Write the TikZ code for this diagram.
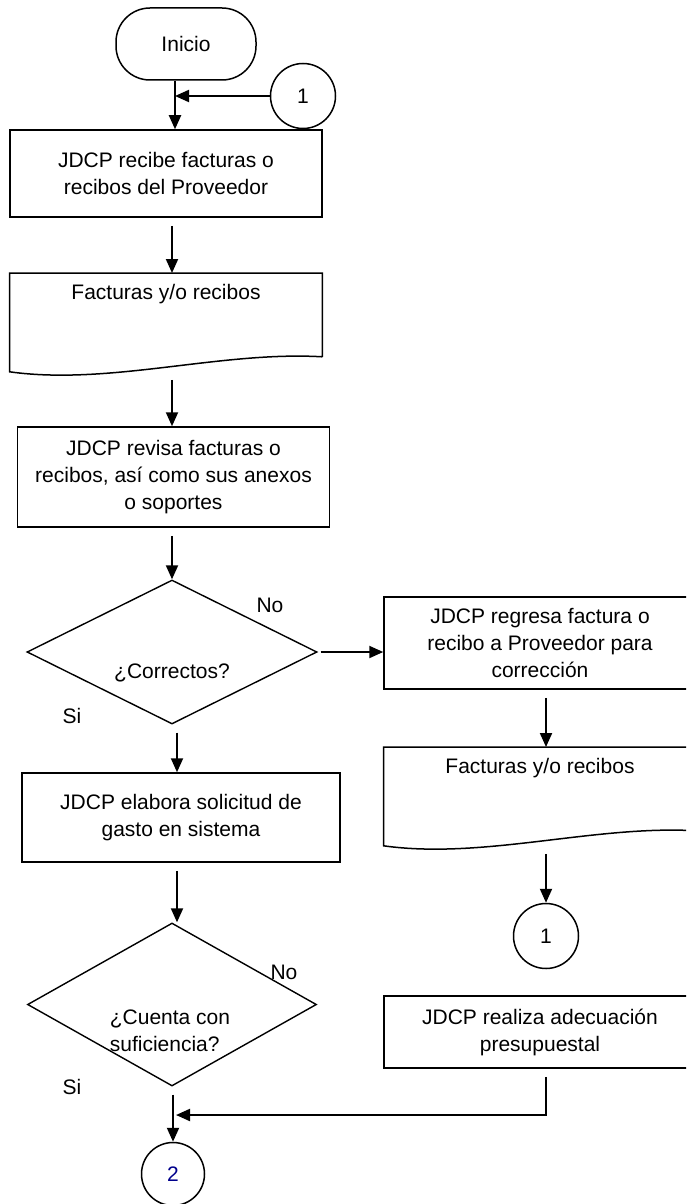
\documentclass[tikz,border=0pt]{standalone}
\usepackage{fontspec}
\setmainfont{Liberation Sans}
\usetikzlibrary{shapes, arrows, positioning, calc, shapes.geometric, arrows.meta}
\definecolor{numblue}{RGB}{0,0,140}

\begin{document}
\begin{tikzpicture}[%
        x=0.5pt, y=-0.5pt,
        every node/.style={font=\fontsize{10.5}{13.5}\selectfont},
        terminal/.style={rectangle, draw, line width=0.75pt, rounded corners=17pt, minimum width=70pt, minimum height=36pt, align=center},
        process/.style={rectangle, draw, line width=0.75pt, minimum width=156pt, inner sep=2pt, align=center},
        docu/.style={rectangle, minimum width=156pt, text height=10pt, text depth=33pt, inner ysep=3pt, align=center},
        decision/.style={diamond, draw, line width=0.7pt, inner sep=0pt, align=center},
        connector/.style={circle, draw, line width=0.75pt, minimum size=32.5pt, inner sep=0pt},
        answer/.style={inner sep=0pt},
        outline/.style={line width=0.75pt},
        wire/.style={line width=1pt},
        arrow/.style={-{Triangle[length=7pt, width=6pt]}, line width=1pt, shorten <=4pt}%
    ]
        \useasboundingbox (0,0) rectangle (686,1204);
        \clip (0,0) rectangle (686,1204);

        % left column
        \node[terminal] (inicio) at (186, 44) {Inicio};
        \node[connector] (c1top) at (303, 96) {1};
        \node[process, minimum height=43.5pt] (recibe) at (166, 173.5) {JDCP recibe facturas o\\recibos del Proveedor};
        \node[docu, anchor=north] (fact1) at (166, 273) {Facturas y/o recibos};
        \node[process, minimum height=50pt] (revisa) at (173.5, 477) {JDCP revisa facturas o\\recibos, así como sus anexos\\o soportes};
        \node[decision, minimum width=145pt, minimum height=72pt, label={[yshift=-10.5pt]center:¿Correctos?}] (correctos) at (172, 652) {};
        \node[process, minimum width=159pt, minimum height=44.5pt] (elabora) at (181, 817.5) {JDCP elabora solicitud de\\gasto en sistema};
        \node[decision, minimum width=144.5pt, minimum height=81.5pt, label={[yshift=-13pt, xshift=-1pt, align=left]center:¿Cuenta con\\suficiencia?}] (cuenta) at (172, 1004.5) {};
        \node[connector, minimum size=31.5pt, text=numblue] (c2) at (173, 1174) {2};

        % right column
        \node[process, minimum height=46pt] (regresa) at (540, 643) {JDCP regresa factura o\\recibo a Proveedor para\\corrección};
        \node[docu, anchor=north] (fact2) at (540, 747) {Facturas y/o recibos};
        \node[connector] (c1bot) at (546, 936) {1};
        \node[process, minimum height=36pt] (adecua) at (540, 1032) {JDCP realiza adecuación\\presupuestal};

        % answers
        \node[answer] (no1) at (270, 605) {No};
        \node[answer] (si1) at (72, 716) {Si};
        \node[answer] (no2) at (284, 972) {No};
        \node[answer] (si2) at (72, 1087) {Si};

        % document outlines
        \draw[outline] ($(fact1.south east)+(0,-15)$) -- (fact1.north east) -- (fact1.north west) -- (fact1.south west) .. controls ($(fact1.south west)+(100,14)$) and ($(fact1.south east)+(-102,-21)$) .. ($(fact1.south east)+(0,-15)$);
        \draw[outline] ($(fact2.south east)+(0,-15)$) -- (fact2.north east) -- (fact2.north west) -- (fact2.south west) .. controls ($(fact2.south west)+(100,14)$) and ($(fact2.south east)+(-102,-21)$) .. ($(fact2.south east)+(0,-15)$);

        \coordinate (m1) at (175, 96);
        \coordinate (lcol) at (172, 0);
        \coordinate (lcol2) at (177, 0);
        \coordinate (rcol) at (546, 0);
        \coordinate (j2) at (176, 1115);

        \draw[wire] (inicio.south -| m1) -- (m1);
        \draw[arrow, shorten <=0pt] (m1) -- (recibe.north -| m1);
        \draw[arrow, shorten <=0pt] (c1top) -- (m1);
        \draw[arrow] (recibe.south -| lcol) -- (fact1.north -| lcol);
        \draw[arrow] (fact1.south -| lcol) -- (revisa.north -| lcol);
        \draw[arrow] (revisa.south -| lcol) -- (correctos.north);
        \draw[arrow] (correctos.south -| lcol2) -- (elabora.north -| lcol2);
        \draw[arrow, shorten <=1.5pt] (correctos.east) -- (correctos.east -| regresa.west);
        \draw[arrow] (elabora.south -| lcol2) -- (cuenta.north -| lcol2);
        \draw[arrow] (cuenta.south -| c2) -- (c2.north);

        \draw[arrow] (regresa.south -| rcol) -- (fact2.north -| rcol);
        \draw[arrow] (fact2.south -| rcol) -- (c1bot.north);
        \draw[arrow] (adecua.south -| rcol) |- (j2);
    \end{tikzpicture}
\end{document}
